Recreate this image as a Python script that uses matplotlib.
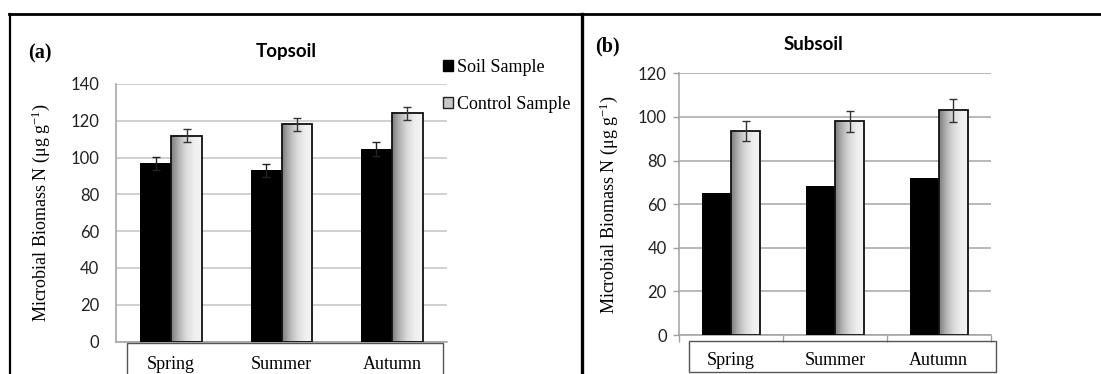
import numpy as np
import matplotlib
matplotlib.use('Agg')
import matplotlib.pyplot as plt
from matplotlib.patches import Patch, Rectangle
from matplotlib.lines import Line2D
from matplotlib.colors import LinearSegmentedColormap

plt.rcParams['mathtext.fontset'] = 'custom'
plt.rcParams['mathtext.rm'] = 'Liberation Serif'
plt.rcParams['mathtext.it'] = 'Liberation Serif:italic'

SERIF = 'Liberation Serif'
SANS = 'Lato'

# Microbial biomass N by season
seasons = ['Spring', 'Summer', 'Autumn']

top_soil = [97, 93, 104.5]
top_soil_err = [3.5, 3.5, 3.8]
top_control = [112, 118, 124]
top_control_err = [3.3, 3.4, 3.4]

sub_soil = [65, 68.5, 72]
sub_control = [93.5, 98, 103]
sub_control_err = [4.7, 4.9, 5.2]

W, H = 1101, 374
fig = plt.figure(figsize=(W / 100, H / 100), dpi=100)


def fx(px):
    return px / W


def fy(py):
    return 1 - py / H


shade = LinearSegmentedColormap.from_list(
    'shade', ['#7c7c7c', '#b4b4b4', '#dcdcdc', '#efefef', '#f4f4f4'])
grad = np.linspace(0, 1, 256).reshape(1, -1)


def panel(left, right, bottom, top, soil, soil_err, control, control_err,
          ymax, grid_color, seg_ticks, label_x, cat_pad):
    ax = fig.add_axes([fx(left), fy(bottom), fx(right - left), (bottom - top) / H])
    x = np.arange(len(seasons))
    w = 0.28

    ax.bar(x - w / 2, soil, w, color='black', zorder=3)
    if soil_err is not None:
        ax.errorbar(x - w / 2, soil, yerr=soil_err, fmt='none', ecolor='#222222',
                    elinewidth=1, capsize=3.2, capthick=1, zorder=5)

    bars = ax.bar(x + w / 2, control, w, facecolor='none', edgecolor='#111111',
                  linewidth=1.3, zorder=4)
    # horizontal grey shading inside the control bars
    for b in bars:
        x0, h = b.get_x(), b.get_height()
        ax.imshow(grad, cmap=shade, aspect='auto', zorder=3.5,
                  extent=[x0, x0 + b.get_width(), 0, h])
    ax.errorbar(x + w / 2, control, yerr=control_err, fmt='none', ecolor='#333333',
                elinewidth=1, capsize=3.2, capthick=1, zorder=5)

    ax.set_xlim(-0.5, 2.5)
    ax.set_ylim(0, ymax)
    ax.set_yticks(np.arange(0, ymax + 1, 20))
    ax.yaxis.grid(True, color=grid_color, linewidth=1.1)
    ax.set_axisbelow(True)

    for s in ['top', 'right']:
        ax.spines[s].set_visible(False)
    for s in ['left', 'bottom']:
        ax.spines[s].set_color('#a0a0a0')
        ax.spines[s].set_linewidth(1.1)

    ax.set_xticks(x)
    ax.set_xticklabels(seasons, fontfamily=SERIF, fontsize=13)
    ax.tick_params(axis='x', which='major', length=0, pad=cat_pad)
    ax.tick_params(axis='y', labelsize=12, colors='#a0a0a0', labelcolor='#222222',
                   length=4 if seg_ticks else 0, width=1, pad=5 if seg_ticks else 12)
    for lab in ax.get_yticklabels():
        lab.set_fontfamily(SANS)
    if seg_ticks:
        ax.set_xticks([-0.5, 0.5, 1.5, 2.5], minor=True)
        ax.tick_params(axis='x', which='minor', length=5, color='#a0a0a0', width=1)

    ax.set_ylabel('Microbial Biomass N (μg g$^{-1}$)', fontfamily=SERIF, fontsize=13)
    ax.yaxis.set_label_coords((label_x - left) / (right - left), 0.5)
    return ax


ax1 = panel(116, 447, 341.5, 84, top_soil, top_soil_err, top_control, top_control_err,
            140, '#c4c4c4', False, 52, 10.5)
ax2 = panel(679.3, 990.7, 335, 73.3, sub_soil, None, sub_control, sub_control_err,
            120, '#a6a6a6', True, 620, 12)

ax1.legend(handles=[Patch(facecolor='black', edgecolor='black'),
                    Patch(facecolor='#c8c8c8', edgecolor='#222222')],
           labels=['Soil Sample', 'Control Sample'],
           loc='upper left', bbox_to_anchor=(0.988, 1.097), frameon=False,
           prop={'family': SERIF, 'size': 13}, handlelength=0.55, handleheight=0.55,
           handletextpad=0.25, labelspacing=1.1, borderpad=0, borderaxespad=0)

# panel headings
fig.text(fx(40), fy(53), '(a)', fontfamily=SERIF, fontweight='bold', fontsize=14.5,
         ha='center', va='center')
fig.text(fx(286), fy(51), 'Topsoil', fontfamily=SANS, fontweight='bold', fontsize=13.5,
         ha='center', va='center')
fig.text(fx(607), fy(46), '(b)', fontfamily=SERIF, fontweight='bold', fontsize=14.5,
         ha='center', va='center')
fig.text(fx(813), fy(44), 'Subsoil', fontfamily=SANS, fontweight='bold', fontsize=13.5,
         ha='center', va='center')

# category label boxes
fig.add_artist(Rectangle((fx(126.7), fy(380)), fx(443 - 126.7), (380 - 343) / H,
                         facecolor='none', edgecolor='#555555', linewidth=1))
fig.add_artist(Rectangle((fx(689.3), fy(371.7)), fx(996 - 689.3), (371.7 - 340.7) / H,
                         facecolor='none', edgecolor='#555555', linewidth=1))

# outer frame
fig.add_artist(Line2D([fx(9), 1], [fy(13.5), fy(13.5)], color='black', linewidth=2))
fig.add_artist(Line2D([fx(10), fx(10)], [fy(13.5), 0], color='black', linewidth=1.6))
fig.add_artist(Line2D([fx(581.5), fx(581.5)], [fy(13.5), 0], color='black', linewidth=2.4))

fig.savefig('out.png', dpi=100)
